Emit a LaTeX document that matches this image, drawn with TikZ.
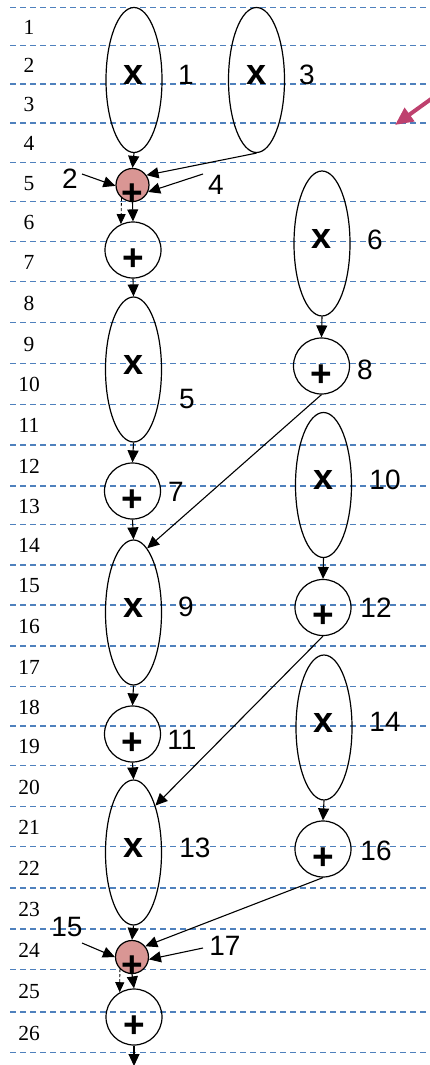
\documentclass[tikz,border=0pt]{standalone}
\usepackage{fontspec}
\setmainfont{Liberation Serif}
\setsansfont{Liberation Sans}
\usetikzlibrary{shapes.geometric, arrows.meta, calc}
\definecolor{gridblue}{RGB}{79,129,189}
\definecolor{redfill}{RGB}{217,150,148}
\definecolor{pointer}{RGB}{190,65,110}
\newcommand{\mulsym}{\raisebox{-4.5pt}[0pt][0pt]{x}}
\newcommand{\addsym}{\raisebox{-20pt}[0pt][0pt]{+}}

\begin{document}
\begin{tikzpicture}[x=1pt, y=-1pt,
    mul/.style={ellipse, draw, line width=1.2pt, minimum width=56pt, minimum height=145pt, inner sep=0pt, font=\sffamily\bfseries\fontsize{36}{36}\selectfont},
    add/.style={circle, draw, line width=1.2pt, minimum size=56pt, inner sep=0pt, font=\sffamily\bfseries\fontsize{37}{37}\selectfont},
    addred/.style={add, minimum size=33pt, fill=redfill},
    num/.style={inner sep=0pt, font=\sffamily\fontsize{28}{28}\selectfont},
    rownum/.style={inner sep=0pt, font=\fontsize{21.5}{21.5}\selectfont},
    flow/.style={-{Triangle[length=12pt,width=11pt]}, line width=1.1pt},
    fwd/.style={-{Triangle[length=10pt,width=9pt]}, line width=0.8pt, dash pattern=on 3pt off 2pt}]
  \useasboundingbox (0,0) rectangle (430,1065);

  % Row grid
  \foreach \y in {7.5,45.7,84,123,162.5,201.7,241.5,281.7,322.7,363.3,404.3,445,486,524.5,565,605,646,686.7,726,765.7,806.7,846.7,888,929,969.7,1012,1052.7}
    \draw[gridblue, line width=1.4pt, dash pattern=on 6pt off 4pt] (10,\y) -- (430,\y);
  \foreach \a/\b [count=\i] in {7.5/45.7,45.7/84,84/123,123/162.5,162.5/201.7,201.7/241.5,241.5/281.7,281.7/322.7,322.7/363.3,363.3/404.3,404.3/445,445/486,486/524.5,524.5/565,565/605,605/646,646/686.7,686.7/726,726/765.7,765.7/806.7,806.7/846.7,846.7/888,888/929,929/969.7,969.7/1012,1012/1052.7}
    \node[rownum] (r\i) at (29,{(\a+\b)/2+1}) {\i};

  % Left chain
  \node[mul] (e1) at (134,80) {\mulsym};
  \node[addred] (a2) at (132.5,185) {\addsym};
  \node[add] (c6) at (133,250) {\addsym};
  \node[mul] (e5) at (133.5,369.5) {\mulsym};
  \node[add] (c7) at (132.5,491) {\addsym};
  \node[mul] (e9) at (133.5,612.5) {\mulsym};
  \node[add] (c11) at (132.5,734) {\addsym};
  \node[mul] (e13) at (133.5,852.5) {\mulsym};
  \node[addred] (a15) at (132,957) {\addsym};
  \node[add] (c25) at (134,1017) {\addsym};

  % Right chain
  \node[mul] (e3) at (256.5,80) {\mulsym};
  \node[mul] (e6) at (322,243.5) {\mulsym};
  \node[add] (c8) at (321.5,366) {\addsym};
  \node[mul] (e10) at (323.5,485) {\mulsym};
  \node[add] (c12) at (323,607.5) {\addsym};
  \node[mul] (e14) at (324,727.5) {\mulsym};
  \node[add] (c16) at (323,849) {\addsym};

  % Step numbers
  \node[num] (l1) at (186,75) {1};
  \node[num] (l2) at (70,179) {2};
  \node[num] (l3) at (307,75) {3};
  \node[num] (l4) at (216,185) {4};
  \node[num] (l5) at (187,399) {5};
  \node[num] (l6) at (375,240) {6};
  \node[num] (l7) at (176,492) {7};
  \node[num] (l8) at (365,370) {8};
  \node[num] (l9) at (186,607) {9};
  \node[num] (l10) at (385,480) {10};
  \node[num] (l11) at (182,740) {11};
  \node[num] (l12) at (376,608) {12};
  \node[num] (l13) at (195,848) {13};
  \node[num] (l14) at (385,722) {14};
  \node[num] (l15) at (67,927) {15};
  \node[num] (l16) at (376,851) {16};
  \node[num] (l17) at (225,946) {17};

  % Free ends
  \coordinate (s2) at (82,174);
  \coordinate (s4) at (203,174);
  \coordinate (s15) at (82,943);
  \coordinate (s17) at (203,948);
  \coordinate (out) at (134,1066);
  \coordinate (ptr) at (445,89);
  \coordinate (ptrtip) at (395,125);

  % Data flow
  \draw[flow] (e1.south) -- (a2.north);
  \draw[flow] (e3.south) -- (a2.35);
  \draw[flow] (s2) -- (a2.183);
  \draw[flow] (s4) -- (a2.-24);
  \draw[flow] (a2.south) -- (c6.north);
  \draw[fwd] (a2.230) -- (c6.115);
  \draw[flow] (c6.south) -- (e5.north);
  \draw[flow] (e5.south) -- (c7.north);
  \draw[flow] (c7.south) -- (e9.north);
  \draw[flow] (e6.south) -- (c8.north);
  \draw[flow] (c8.south) -- (e9.78);
  \draw[flow] (e9.south) -- (c11.north);
  \draw[flow] (c11.south) -- (e13.north);
  \draw[flow] (e10.south) -- (c12.north);
  \draw[flow] (c12.south) -- (e13.65);
  \draw[flow] (e14.south) -- (c16.north);
  \draw[flow] (c16.south) -- (a15.39);
  \draw[flow] (e13.south) -- (a15.north);
  \draw[flow] (s15) -- (a15.180);
  \draw[flow] (s17) -- (a15.-8);
  \draw[flow] (a15.south) -- (c25.north);
  \draw[fwd] (a15.225) -- (c25.120);
  \draw[flow] (c25.south) -- (out);

  % Pointer
  \draw[pointer, line width=4pt, -{Triangle[length=18pt,width=16pt]}] (ptr) -- (ptrtip);
\end{tikzpicture}
\end{document}
